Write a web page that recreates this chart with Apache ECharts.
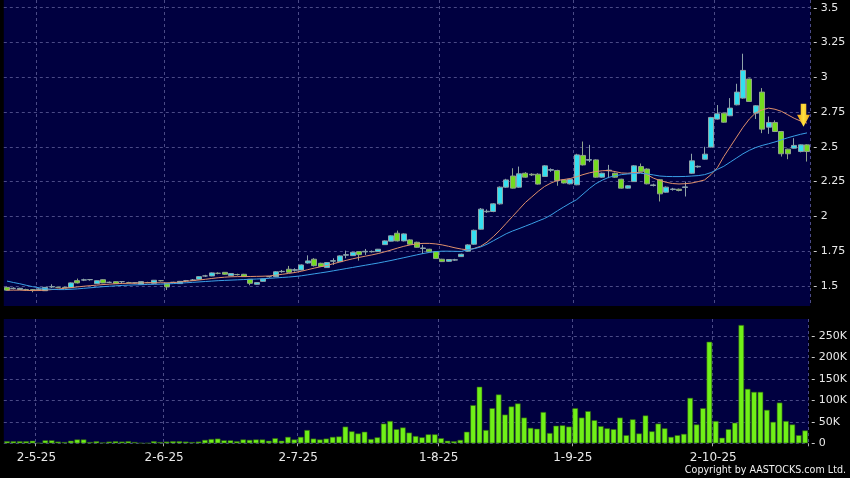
<!DOCTYPE html>
<html><head><meta charset="utf-8">
<script src="https://cdn.jsdelivr.net/npm/echarts@6/dist/echarts.min.js"></script>
<style>html,body{margin:0;padding:0;background:#000;}#c{width:850px;height:478px;}</style>
</head><body><div id="c"></div>
<script>
const dates = ['24-4-25','25-4-25','28-4-25','29-4-25','30-4-25','2-5-25','6-5-25','7-5-25','8-5-25','9-5-25',
'12-5-25','13-5-25','14-5-25','15-5-25','16-5-25','19-5-25','20-5-25','21-5-25','22-5-25','23-5-25',
'26-5-25','27-5-25','28-5-25','29-5-25','30-5-25','2-6-25','3-6-25','4-6-25','5-6-25','6-6-25',
'9-6-25','10-6-25','11-6-25','12-6-25','13-6-25','16-6-25','17-6-25','18-6-25','19-6-25','20-6-25',
'23-6-25','24-6-25','25-6-25','26-6-25','27-6-25','30-6-25','2-7-25','3-7-25','4-7-25','7-7-25',
'8-7-25','9-7-25','10-7-25','11-7-25','14-7-25','15-7-25','16-7-25','17-7-25','18-7-25','21-7-25',
'22-7-25','23-7-25','24-7-25','25-7-25','28-7-25','29-7-25','30-7-25','31-7-25','1-8-25','4-8-25',
'5-8-25','6-8-25','7-8-25','8-8-25','11-8-25','12-8-25','13-8-25','14-8-25','15-8-25','18-8-25',
'19-8-25','20-8-25','21-8-25','22-8-25','25-8-25','26-8-25','27-8-25','28-8-25','29-8-25','1-9-25',
'2-9-25','3-9-25','4-9-25','5-9-25','8-9-25','9-9-25','10-9-25','11-9-25','12-9-25','15-9-25',
'16-9-25','17-9-25','18-9-25','19-9-25','22-9-25','23-9-25','24-9-25','25-9-25','26-9-25','29-9-25',
'30-9-25','2-10-25','3-10-25','6-10-25','8-10-25','9-10-25','10-10-25','13-10-25','14-10-25','15-10-25',
'16-10-25','17-10-25','20-10-25','21-10-25','22-10-25','23-10-25'];

const opens = [1.49,1.482,1.475,1.474,1.473,1.476,1.466,1.493,1.49,1.49,
1.488,1.538,1.542,1.545,1.517,1.545,1.526,1.531,1.531,1.524,
1.522,1.512,1.524,1.519,1.538,1.519,1.526,1.517,1.538,1.541,
1.548,1.572,1.572,1.591,1.598,1.574,1.582,1.584,1.548,1.512,
1.533,1.567,1.567,1.603,1.62,1.613,1.615,1.665,1.692,1.663,
1.632,1.678,1.675,1.721,1.718,1.747,1.745,1.746,1.747,1.797,
1.822,1.879,1.824,1.831,1.814,1.769,1.764,1.747,1.692,1.677,
1.686,1.711,1.75,1.80,1.908,2.033,2.035,2.09,2.21,2.29,
2.21,2.31,2.303,2.303,2.287,2.332,2.33,2.262,2.234,2.227,
2.438,2.404,2.406,2.282,2.328,2.31,2.267,2.203,2.25,2.358,
2.34,2.222,2.263,2.174,2.193,2.195,2.208,2.31,2.356,2.411,
2.498,2.699,2.742,2.723,2.802,2.85,2.987,2.742,2.893,2.641,
2.675,2.61,2.483,2.49,2.466,2.514];
const closes = [1.47,1.484,1.483,1.472,1.471,1.478,1.49,1.495,1.49,1.488,
1.522,1.522,1.544,1.546,1.538,1.522,1.526,1.517,1.531,1.524,
1.523,1.531,1.524,1.541,1.538,1.493,1.526,1.533,1.538,1.543,
1.567,1.572,1.594,1.591,1.584,1.589,1.582,1.567,1.519,1.524,
1.55,1.567,1.602,1.605,1.598,1.617,1.651,1.68,1.646,1.64,
1.668,1.682,1.716,1.725,1.742,1.725,1.749,1.748,1.764,1.824,
1.86,1.824,1.874,1.8,1.778,1.773,1.745,1.697,1.675,1.69,
1.688,1.728,1.795,1.90,2.052,2.037,2.09,2.21,2.262,2.203,
2.306,2.282,2.298,2.232,2.363,2.336,2.258,2.24,2.267,2.442,
2.37,2.408,2.282,2.31,2.332,2.282,2.203,2.22,2.363,2.32,
2.234,2.226,2.162,2.21,2.197,2.186,2.212,2.399,2.36,2.447,
2.711,2.737,2.677,2.778,2.893,3.049,2.826,2.795,2.627,2.675,
2.61,2.45,2.45,2.51,2.514,2.466];
const lows = [1.465,1.475,1.472,1.468,1.455,1.47,1.464,1.485,1.485,1.484,
1.486,1.518,1.535,1.538,1.515,1.52,1.52,1.515,1.52,1.518,
1.517,1.51,1.52,1.517,1.532,1.471,1.52,1.515,1.53,1.535,
1.545,1.565,1.57,1.584,1.58,1.572,1.575,1.565,1.505,1.51,
1.53,1.56,1.563,1.595,1.595,1.603,1.612,1.66,1.64,1.636,
1.63,1.651,1.672,1.699,1.715,1.682,1.723,1.74,1.744,1.795,
1.82,1.82,1.82,1.797,1.775,1.73,1.742,1.694,1.672,1.674,
1.68,1.708,1.745,1.795,1.905,2.025,2.03,2.085,2.205,2.2,
2.205,2.278,2.29,2.228,2.283,2.32,2.22,2.236,2.23,2.224,
2.366,2.39,2.278,2.278,2.275,2.278,2.2,2.2,2.247,2.316,
2.23,2.215,2.107,2.17,2.185,2.18,2.143,2.306,2.35,2.408,
2.495,2.695,2.673,2.72,2.798,2.845,2.822,2.7,2.598,2.593,
2.606,2.43,2.411,2.487,2.46,2.394];
const highs = [1.495,1.49,1.487,1.48,1.478,1.483,1.492,1.512,1.495,1.494,
1.525,1.553,1.552,1.55,1.54,1.548,1.532,1.534,1.535,1.53,
1.527,1.534,1.53,1.543,1.542,1.52,1.53,1.536,1.543,1.55,
1.57,1.58,1.597,1.598,1.6,1.591,1.588,1.587,1.55,1.526,
1.552,1.572,1.607,1.615,1.644,1.627,1.655,1.72,1.70,1.667,
1.672,1.699,1.72,1.754,1.745,1.75,1.766,1.755,1.766,1.828,
1.864,1.898,1.878,1.835,1.818,1.795,1.767,1.75,1.695,1.693,
1.695,1.732,1.80,1.905,2.06,2.05,2.095,2.215,2.27,2.346,
2.358,2.318,2.31,2.31,2.368,2.345,2.335,2.266,2.27,2.45,
2.538,2.514,2.41,2.314,2.37,2.315,2.27,2.224,2.368,2.38,
2.345,2.235,2.268,2.215,2.205,2.2,2.25,2.45,2.365,2.5,
2.715,2.80,2.746,2.85,2.953,3.169,2.99,2.80,2.922,2.718,
2.69,2.614,2.486,2.562,2.517,2.518];
const volumes = [5000,5000,5000,5000,6000,1000,7000,7000,4000,3000,
6000,9000,9000,3000,5000,2000,4000,5000,4000,5000,
3000,1000,1000,5000,3000,4000,5000,5000,4000,3000,
4000,8000,10000,11000,7000,7000,5000,9000,8000,9000,
9000,6000,12000,6000,15000,9000,15000,31000,11000,9000,
11000,15000,16000,39000,28000,23000,27000,10000,14000,46000,
52000,33000,37000,25000,17000,14000,21000,21000,12000,6000,
5000,8000,27000,89000,132000,31000,82000,114000,67000,86000,
93000,60000,36000,34000,73000,24000,41000,42000,39000,82000,
60000,75000,54000,40000,35000,33000,60000,19000,56000,23000,
65000,28000,46000,35000,15000,19000,22000,106000,44000,82000,
237000,52000,13000,33000,48000,276000,127000,120000,120000,78000,
50000,95000,52000,44000,19000,30000];
const maShort = [1.47,1.47,1.47,1.468,1.467,1.467,1.47,1.474,1.478,1.483,
1.488,1.493,1.498,1.502,1.506,1.51,1.513,1.516,1.518,1.519,
1.52,1.522,1.523,1.523,1.523,1.522,1.524,1.528,1.533,1.538,
1.543,1.548,1.554,1.559,1.563,1.566,1.567,1.568,1.568,1.569,
1.57,1.572,1.578,1.584,1.59,1.597,1.606,1.617,1.628,1.638,
1.648,1.66,1.672,1.684,1.695,1.705,1.714,1.723,1.733,1.745,
1.758,1.772,1.785,1.795,1.802,1.806,1.806,1.802,1.795,1.785,
1.774,1.765,1.76,1.77,1.785,1.815,1.855,1.9,1.95,2.0,
2.05,2.1,2.14,2.18,2.215,2.24,2.258,2.265,2.272,2.285,
2.3,2.313,2.322,2.328,2.33,2.322,2.312,2.31,2.315,2.315,
2.3,2.275,2.258,2.245,2.236,2.233,2.235,2.24,2.25,2.262,
2.3,2.35,2.43,2.5,2.57,2.64,2.7,2.745,2.765,2.778,
2.77,2.755,2.73,2.705,2.685,2.67];
const maLong = [1.535,1.525,1.516,1.505,1.495,1.487,1.48,1.476,1.474,1.474,
1.476,1.479,1.483,1.487,1.491,1.495,1.498,1.501,1.504,1.506,
1.508,1.509,1.511,1.512,1.513,1.515,1.517,1.52,1.523,1.526,
1.529,1.532,1.535,1.538,1.54,1.542,1.544,1.546,1.548,1.55,
1.552,1.555,1.558,1.561,1.564,1.568,1.573,1.58,1.587,1.594,
1.601,1.609,1.617,1.625,1.633,1.641,1.649,1.657,1.665,1.674,
1.683,1.693,1.703,1.713,1.723,1.733,1.741,1.747,1.75,1.75,
1.749,1.748,1.76,1.768,1.78,1.8,1.825,1.85,1.875,1.895,
1.912,1.93,1.948,1.967,1.985,2.01,2.04,2.068,2.095,2.12,
2.16,2.2,2.235,2.26,2.28,2.292,2.3,2.305,2.308,2.31,
2.305,2.298,2.29,2.287,2.286,2.286,2.287,2.29,2.293,2.3,
2.315,2.338,2.36,2.39,2.42,2.45,2.475,2.495,2.51,2.522,
2.535,2.55,2.565,2.578,2.59,2.6];
const priceTicks = [1.5,1.75,2,2.25,2.5,2.75,3,3.25,3.5];
const volumeTicks = [0,50000,100000,150000,200000,250000];
const monthStartLabels = ['2-5-25','2-6-25','2-7-25','1-8-25','1-9-25','2-10-25'];
const arrowMark = {date:'23-10-25', price:2.726};

const chart = echarts.init(document.getElementById('c'));
const FONT = 'DejaVu Sans';
const gridLine = {show:true, lineStyle:{color:'#4a4a86', type:[3,3], width:1}};
const isMonthStart = (i, v) => monthStartLabels.indexOf(dates[i]) >= 0;
const candleData = dates.map((d, i) => [opens[i], closes[i], lows[i], highs[i]]);

chart.setOption({
  backgroundColor:'#000',
  animation:false,
  grid:[
    {left:3.8, width:806.4, top:0, height:306, show:true, backgroundColor:'#000040', borderWidth:0},
    {left:3.8, width:806.4, top:319, height:124.3, show:true, backgroundColor:'#000040', borderWidth:0}
  ],
  xAxis:[
    {type:'category', gridIndex:0, data:dates, boundaryGap:true,
     axisLine:{show:false}, axisTick:{show:false}, axisLabel:{show:false},
     splitLine:Object.assign({interval:isMonthStart}, gridLine)},
    {type:'category', gridIndex:1, data:dates, boundaryGap:true,
     axisLine:{show:false},
     axisTick:{show:true, interval:isMonthStart, length:3, lineStyle:{color:'#aaaaaa'}},
     axisLabel:{show:true, interval:isMonthStart, color:'#e8e8e8', fontFamily:FONT, fontSize:12, margin:9, padding:[0,5,0,0]},
     splitLine:Object.assign({interval:isMonthStart}, gridLine)}
  ],
  yAxis:[
    {type:'value', gridIndex:0, position:'right', min:1.356, max:3.555, scale:true,
     axisLine:{show:false}, axisTick:{show:false, customValues:priceTicks},
     axisLabel:{customValues:priceTicks, formatter:v => '- ' + v, color:'#e8e8e8', fontFamily:FONT, fontSize:11, margin:3},
     splitLine:gridLine},
    {type:'value', gridIndex:1, position:'right', min:0, max:290000,
     axisLine:{show:false}, axisTick:{show:false, customValues:volumeTicks},
     axisLabel:{customValues:volumeTicks, formatter:v => '- ' + (v === 0 ? '0' : (v/1000) + 'K'), color:'#e8e8e8', fontFamily:FONT, fontSize:11, margin:3},
     splitLine:gridLine}
  ],
  series:[
    {type:'candlestick', xAxisIndex:0, yAxisIndex:0, data:candleData, barWidth:5.5,
     itemStyle:{color:'#33dff0', color0:'#74dc1e', borderColor:'#8fa3a8', borderColor0:'#8fa38a', borderWidth:1},
     markPoint:{
       symbol:'path://M4,0 L10,0 L10,11 L14,11 L7,23 L0,11 L4,11 Z',
       symbolSize:[13,23], symbolOffset:[-3.5,0], silent:true,
       label:{show:false},
       itemStyle:{color:new echarts.graphic.LinearGradient(0,0,1,0,[{offset:0,color:'#f0a010'},{offset:0.5,color:'#ffe040'},{offset:1,color:'#f0a010'}])},
       data:[{coord:[arrowMark.date, arrowMark.price]}]
     }},
    {type:'line', xAxisIndex:0, yAxisIndex:0, data:maShort, symbol:'none', lineStyle:{color:'#e0906c', width:1}},
    {type:'line', xAxisIndex:0, yAxisIndex:0, data:maLong, symbol:'none', lineStyle:{color:'#3a9fe6', width:1}},
    {type:'bar', xAxisIndex:1, yAxisIndex:1, data:volumes, barCategoryGap:'12%',
     itemStyle:{color:'#70f018', borderColor:'#2c5a12', borderWidth:0.6}}
  ],
  graphic:[
    {type:'text', x:846, y:465, scaleX:0.87, silent:true,
     style:{text:'Copyright by AASTOCKS.com Ltd.', fill:'#f0f0f0', font:'11px "DejaVu Sans"', align:'right', verticalAlign:'top'}}
  ]
});
</script>
</body></html>
